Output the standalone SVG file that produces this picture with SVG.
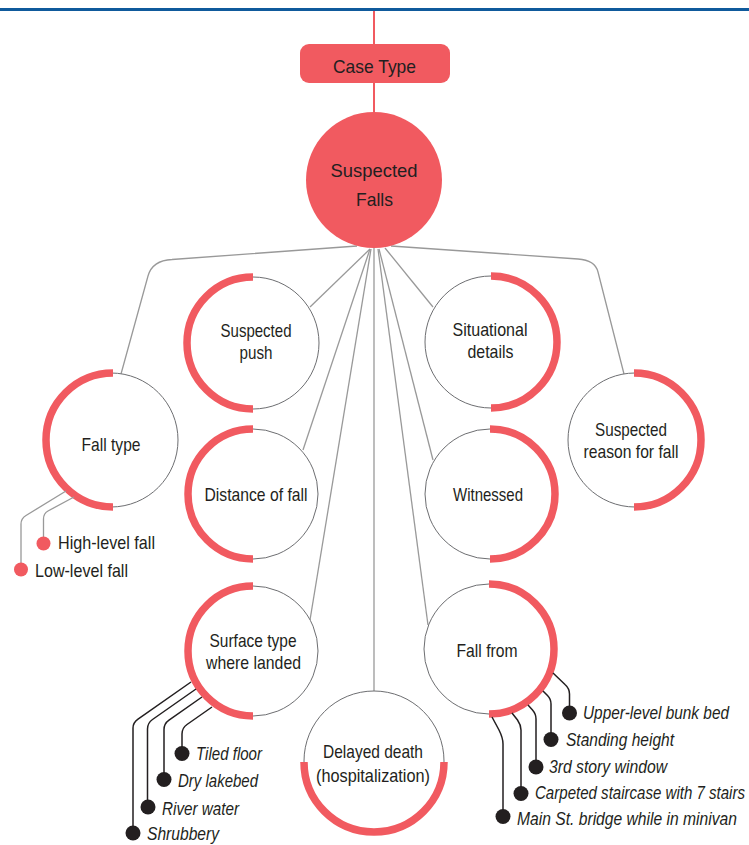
<svg xmlns="http://www.w3.org/2000/svg" width="749" height="845" viewBox="0 0 749 845">
<style>
  .lbl { font-family: "Liberation Sans", Arial, sans-serif; font-size: 19px; fill: #231f20; text-anchor: middle; }
  .it { font-family: "Liberation Sans", Arial, sans-serif; font-size: 19px; fill: #231f20; font-style: italic; }
  .nd { fill: #ffffff; stroke: #6d6e71; stroke-width: 1; }
  .arc { fill: none; stroke: #f15a60; stroke-width: 7.5; stroke-linecap: butt; }
  .con { fill: none; stroke: #999999; stroke-width: 1.3; }
  .lead { fill: none; stroke: #231f20; stroke-width: 1.5; }
  .glead { fill: none; stroke: #999999; stroke-width: 1.3; }
  .rdot { fill: #f15a60; }
  .bdot { fill: #231f20; }
</style>
<rect x="0" y="8" width="749" height="3" fill="#0f5a9c"/>

<g id="connectors">
  <path d="M374,11 L374,44 M374,83 L374,113" stroke="#f15a60" stroke-width="2" fill="none"/>
  <path class="con" d="M357,246 L172,259.5 Q152.3,260.5 148,276 L121,374"/>
  <path class="con" d="M391,246 L578,259 Q595,260 598,272 L624,374"/>
  <path class="con" d="M370,249 L310,307"/>
  <path class="con" d="M385,248 L433,307"/>
  <path class="con" d="M370,249 L303,450"/>
  <path class="con" d="M371,249 L310,620"/>
  <path class="con" d="M374,248 L374,691"/>
  <path class="con" d="M379,249 L433,460"/>
  <path class="con" d="M378,249 L428,625"/>
</g>

<g id="case-type">
  <rect x="300" y="44" width="150" height="39" rx="9" fill="#f15a60"/>
  <text class="lbl" x="374.5" y="73" font-size="22" textLength="83" lengthAdjust="spacingAndGlyphs">Case Type</text>
</g>

<g id="suspected-falls">
  <circle cx="374" cy="180" r="68" fill="#f15a60"/>
  <text class="lbl" x="374" y="177" font-size="27" textLength="87" lengthAdjust="spacingAndGlyphs">Suspected</text>
  <text class="lbl" x="374.5" y="206" font-size="27" textLength="37" lengthAdjust="spacingAndGlyphs">Falls</text>
</g>

<g id="fall-type">
  <circle class="nd" cx="111" cy="440" r="67"/>
  <path class="arc" d="M113,373 A67,67 0 0 0 113,507"/>
  <text class="lbl" x="111" y="451" textLength="59" lengthAdjust="spacingAndGlyphs">Fall type</text>
  <path class="glead" d="M66,491 L26,515.5 Q21,518.5 21,524 L21,569"/>
  <path class="glead" d="M74,497 L48,511 Q43.5,513.5 43.5,519 L43.5,543"/>
  <circle class="rdot" cx="43.5" cy="543.5" r="7"/>
  <circle class="rdot" cx="21" cy="569.5" r="7"/>
  <text class="it" style="font-style:normal" x="58" y="549" textLength="97" lengthAdjust="spacingAndGlyphs">High-level fall</text>
  <text class="it" style="font-style:normal" x="35" y="577" textLength="93" lengthAdjust="spacingAndGlyphs">Low-level fall</text>
</g>

<g id="suspected-push">
  <circle class="nd" cx="253" cy="343" r="66"/>
  <path class="arc" d="M253,277 A66,66 0 0 0 253,409"/>
  <text class="lbl" x="256" y="337" textLength="71" lengthAdjust="spacingAndGlyphs">Suspected</text>
  <text class="lbl" x="256" y="359" textLength="33" lengthAdjust="spacingAndGlyphs">push</text>
</g>

<g id="situational-details">
  <circle class="nd" cx="491" cy="342" r="66"/>
  <path class="arc" d="M491,276 A66,66 0 0 1 491,408"/>
  <text class="lbl" x="490" y="336" textLength="75" lengthAdjust="spacingAndGlyphs">Situational</text>
  <text class="lbl" x="490.5" y="358" textLength="46" lengthAdjust="spacingAndGlyphs">details</text>
</g>

<g id="suspected-reason">
  <circle class="nd" cx="635" cy="440" r="67"/>
  <path class="arc" d="M634,373 A67,67 0 0 1 634,507"/>
  <text class="lbl" x="631" y="436" textLength="72" lengthAdjust="spacingAndGlyphs">Suspected</text>
  <text class="lbl" x="631" y="458" textLength="95" lengthAdjust="spacingAndGlyphs">reason for fall</text>
</g>

<g id="distance-of-fall">
  <circle class="nd" cx="253" cy="494" r="65"/>
  <path class="arc" d="M253,429 A65,65 0 0 0 253,559"/>
  <text class="lbl" x="256" y="501" textLength="103" lengthAdjust="spacingAndGlyphs">Distance of fall</text>
</g>

<g id="witnessed">
  <circle class="nd" cx="490" cy="494" r="65"/>
  <path class="arc" d="M490,429 A65,65 0 0 1 490,559"/>
  <text class="lbl" x="488" y="501" textLength="70" lengthAdjust="spacingAndGlyphs">Witnessed</text>
</g>

<g id="surface-type">
  <circle class="nd" cx="253" cy="651" r="65"/>
  <path class="arc" d="M253,586 A65,65 0 0 0 253,716"/>
  <text class="lbl" x="253" y="647" textLength="87" lengthAdjust="spacingAndGlyphs">Surface type</text>
  <text class="lbl" x="253.5" y="669" textLength="95" lengthAdjust="spacingAndGlyphs">where landed</text>
  <path class="lead" d="M191,682 L138,719.1 Q133,722.6 133,728 L133,833"/>
  <path class="lead" d="M196,689 L152.5,719.5 Q147.5,723 147.5,729 L147.5,807"/>
  <path class="lead" d="M202,697 L169,720.1 Q164,723.6 164,729.6 L164,779"/>
  <path class="lead" d="M212,707 L187,724.5 Q182,728 182,734 L182,753"/>
  <circle class="bdot" cx="182" cy="753.5" r="7.5"/>
  <circle class="bdot" cx="164" cy="779.5" r="7.5"/>
  <circle class="bdot" cx="148" cy="807" r="7.5"/>
  <circle class="bdot" cx="133" cy="833" r="7.5"/>
  <text class="it" x="196" y="760" textLength="66" lengthAdjust="spacingAndGlyphs">Tiled floor</text>
  <text class="it" x="178" y="787" textLength="80" lengthAdjust="spacingAndGlyphs">Dry lakebed</text>
  <text class="it" x="162" y="815" textLength="77" lengthAdjust="spacingAndGlyphs">River water</text>
  <text class="it" x="147" y="840" textLength="72" lengthAdjust="spacingAndGlyphs">Shrubbery</text>
</g>

<g id="delayed-death">
  <circle class="nd" cx="374" cy="761" r="70"/>
  <path class="arc" d="M304,762 A70,70 0 0 0 444,762"/>
  <text class="lbl" x="373" y="758" textLength="100" lengthAdjust="spacingAndGlyphs">Delayed death</text>
  <text class="lbl" x="373" y="782" textLength="114" lengthAdjust="spacingAndGlyphs">(hospitalization)</text>
</g>

<g id="fall-from">
  <circle class="nd" cx="489" cy="649" r="65"/>
  <path class="arc" d="M489,584 A65,65 0 0 1 489,714"/>
  <text class="lbl" x="487" y="657" textLength="61" lengthAdjust="spacingAndGlyphs">Fall from</text>
  <path class="lead" d="M553,673 L565,684.5 Q569.5,688.5 569.5,694 L569.5,713"/>
  <path class="lead" d="M543,691 L547.5,695.5 Q551,699 551,704 L551,739"/>
  <path class="lead" d="M528,705 L532.5,710 Q536,714 536,719 L536,767"/>
  <path class="lead" d="M512,713 L517.5,720 Q521,725 521,730 L521,793"/>
  <path class="lead" d="M492,717 L499,730 Q503,738 503,744 L503,816"/>
  <circle class="bdot" cx="569.5" cy="713" r="7.5"/>
  <circle class="bdot" cx="551" cy="739.5" r="7.5"/>
  <circle class="bdot" cx="536" cy="767" r="7.5"/>
  <circle class="bdot" cx="521" cy="793.5" r="7.5"/>
  <circle class="bdot" cx="503" cy="816.5" r="7.5"/>
  <text class="it" transform="translate(583,719) scale(0.8,1)" x="0" y="0" textLength="182.5" lengthAdjust="spacingAndGlyphs">Upper-level bunk bed</text>
  <text class="it" x="566" y="746" textLength="108" lengthAdjust="spacingAndGlyphs">Standing height</text>
  <text class="it" x="549" y="773" textLength="118" lengthAdjust="spacingAndGlyphs">3rd story window</text>
  <text class="it" transform="translate(535,799) scale(0.8,1)" x="0" y="0" textLength="262.5" lengthAdjust="spacingAndGlyphs">Carpeted staircase with 7 stairs</text>
  <text class="it" transform="translate(517,825) scale(0.8,1)" x="0" y="0" textLength="275" lengthAdjust="spacingAndGlyphs">Main St. bridge while in minivan</text>
</g>
</svg>
